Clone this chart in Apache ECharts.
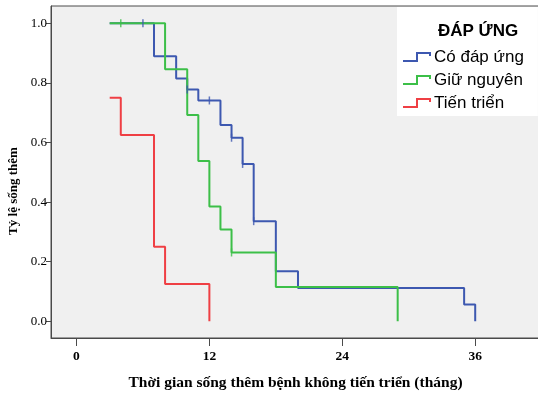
<!DOCTYPE html>
<html>
<head>
<meta charset="utf-8">
<script src="https://cdn.jsdelivr.net/npm/echarts@6/dist/echarts.min.js"></script>
<style>
html,body{margin:0;padding:0;background:#fff;}
#c{width:538px;height:394px;}
</style>
</head>
<body>
<div id="c"></div>
<script>
// ---- data ----
const groupNames = ['Có đáp ứng', 'Giữ nguyên', 'Tiến triển'];

const blueTimes = [3, 7, 9, 10, 11, 13, 14, 15, 16, 18, 20, 35, 36];
const blueSurv  = [1, 0.889, 0.815, 0.778, 0.741, 0.659, 0.616, 0.528, 0.336, 0.168, 0.112, 0.056, 0];
const blueCensorTimes = [6, 10, 12, 14, 15, 16];
const blueCensorSurv  = [1, 0.778, 0.741, 0.616, 0.528, 0.336];

const greenTimes = [3, 8, 10, 11, 12, 13, 14, 18, 29];
const greenSurv  = [1, 0.846, 0.692, 0.538, 0.385, 0.308, 0.231, 0.115, 0];
const greenCensorTimes = [4, 14];
const greenCensorSurv  = [1, 0.231];

const redTimes = [3, 4, 7, 8, 12];
const redSurv  = [0.75, 0.625, 0.25, 0.125, 0];

const xTicks = [0, 12, 24, 36];
const yTicks = [0, 0.2, 0.4, 0.6, 0.8, 1.0];

const colors = ['#3d58b0', '#3cbf48', '#ef3f44'];

function pairs(t, s) { return t.map((v, i) => [v, s[i]]); }

const serif = 'Liberation Serif, Times New Roman, serif';
const sans = 'Liberation Sans, Arial, sans-serif';
const legendIcon = 'path://M0,8 L13,8 L13,0 L28,0 L28,4 L26,4 L26,2 L15,2 L15,10 L0,10 Z';

const chart = echarts.init(document.getElementById('c'), null, {renderer: 'canvas'});

function stepSeries(name, data, color, z) {
  return {
    name: name, type: 'line', step: 'end', data: data,
    showSymbol: false, symbol: 'none', z: z,
    lineStyle: {color: color, width: 2},
    itemStyle: {color: color},
    animation: false
  };
}
function censorSeries(name, data, color, z) {
  return {
    name: name, type: 'scatter', data: data, z: z,
    symbol: 'rect', symbolSize: [1.5, 8],
    itemStyle: {color: color}, silent: true, animation: false
  };
}

chart.setOption({
  animation: false,
  backgroundColor: '#ffffff',
  title: {
    text: 'ĐÁP ỨNG', left: 433, top: 18,
    textStyle: {fontFamily: sans, fontSize: 17, fontWeight: 'bold', color: '#000'}
  },
  legend: {
    data: groupNames,
    orient: 'vertical', left: 397, top: 7,
    backgroundColor: '#ffffff',
    padding: [40, 14, 3, 6],
    itemWidth: 28, itemHeight: 10, itemGap: 3,
    icon: legendIcon,
    textStyle: {fontFamily: sans, fontSize: 17, color: '#000', lineHeight: 20, padding: [0, 0, 0, -2]}
  },
  grid: {
    left: 51, top: 6, right: -2, bottom: 56,
    containLabel: false, outerBoundsMode: 'none',
    show: true, backgroundColor: '#f0f0f0', borderColor: '#4a4a4a', borderWidth: 1
  },
  xAxis: {
    type: 'value', min: -2.3, max: 41.85,
    name: 'Thời gian sống thêm bệnh không tiến triển (tháng)',
    nameLocation: 'middle', nameGap: 37,
    nameTextStyle: {fontFamily: serif, fontSize: 15.5, fontWeight: 'bold', color: '#000'},
    axisLine: {show: true, onZero: false, lineStyle: {color: '#4a4a4a', width: 1}},
    axisTick: {show: true, length: 8, customValues: xTicks, lineStyle: {color: '#4a4a4a'}},
    axisLabel: {customValues: xTicks, margin: 12, fontFamily: serif, fontSize: 13.5, fontWeight: 'bold', color: '#000'},
    splitLine: {show: false}
  },
  yAxis: {
    type: 'value', min: -0.056, max: 1.058,
    name: 'Tỷ lệ sống thêm',
    nameLocation: 'middle', nameGap: 27,
    nameTextStyle: {fontFamily: serif, fontSize: 13, fontWeight: 'bold', color: '#000', padding: [0, 38, 0, 0]},
    axisLine: {show: true, onZero: false, lineStyle: {color: '#4a4a4a', width: 1}},
    axisTick: {show: true, length: 5, customValues: yTicks, lineStyle: {color: '#4a4a4a'}},
    axisLabel: {customValues: yTicks, margin: 4, fontFamily: serif, fontSize: 13, color: '#000',
      formatter: v => v.toFixed(1)},
    splitLine: {show: false}
  },
  series: [
    stepSeries(groupNames[0], pairs(blueTimes, blueSurv), colors[0], 2),
    stepSeries(groupNames[1], pairs(greenTimes, greenSurv), colors[1], 3),
    stepSeries(groupNames[2], pairs(redTimes, redSurv), colors[2], 4),
    censorSeries('c0', pairs(blueCensorTimes, blueCensorSurv), colors[0], 5),
    censorSeries('c1', pairs(greenCensorTimes, greenCensorSurv), colors[1], 5)
  ]
});
</script>
</body>
</html>
